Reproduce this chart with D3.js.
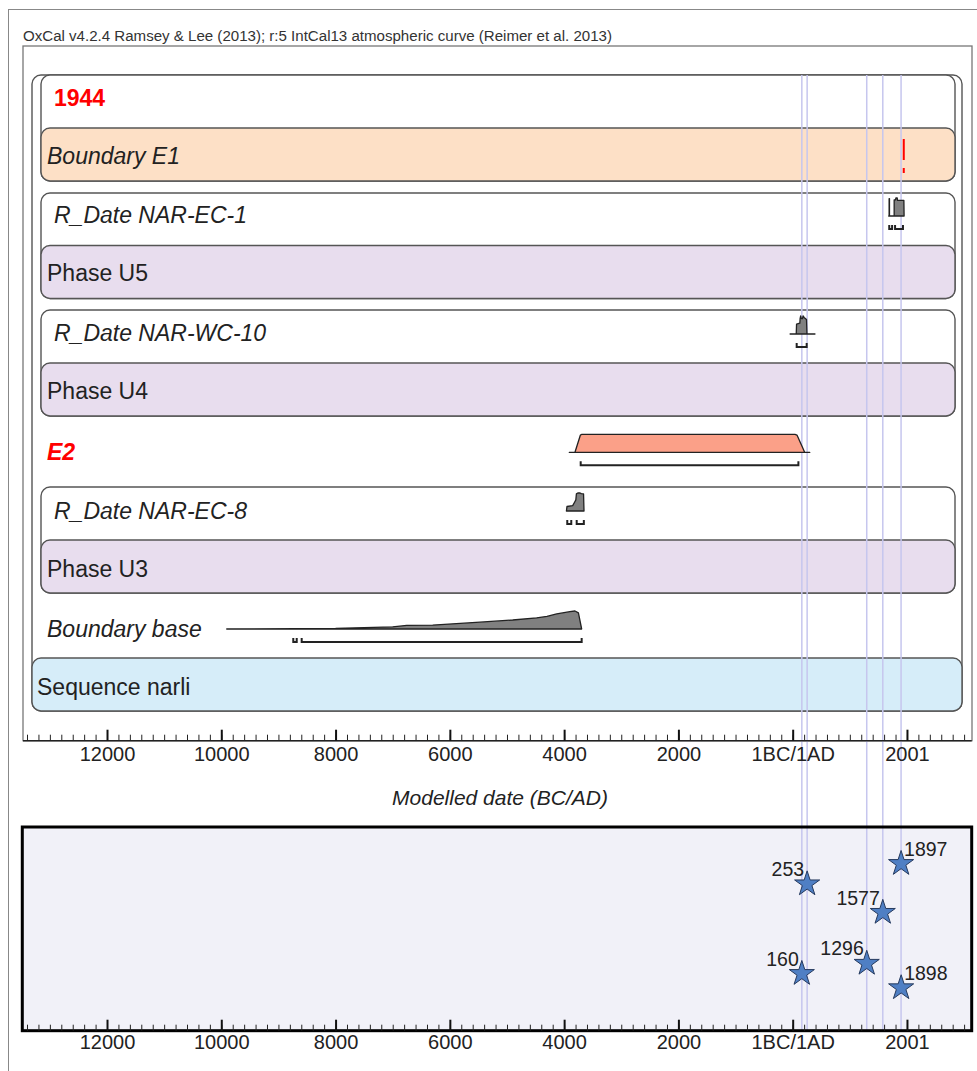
<!DOCTYPE html>
<html><head><meta charset="utf-8">
<script src="https://cdn.jsdelivr.net/npm/d3@7"></script>
<style>
html,body{margin:0;padding:0;background:#fff;}
svg{display:block;font-family:"Liberation Sans",Arial,sans-serif;}
</style></head><body>
<svg id="chart" width="977" height="1071"></svg>
<script>
// ---------------- data ----------------
const titleText = "OxCal v4.2.4 Ramsey & Lee (2013); r:5 IntCal13 atmospheric curve (Reimer et al. 2013)";
const axisTitle = "Modelled date (BC/AD)";
const rowLabels = ["1944", "Boundary E1", "R_Date NAR-EC-1", "Phase U5", "R_Date NAR-WC-10",
  "Phase U4", "E2", "R_Date NAR-EC-8", "Phase U3", "Boundary base", "Sequence narli"];
const majorTickValues = [-12000, -10000, -8000, -6000, -4000, -2000, 0, 2000];
const majorTickLabels = ["12000", "10000", "8000", "6000", "4000", "2000", "1BC/1AD", "2001"];
const minorTickStep = 200;
const boundaryE1Year = 1944;
// probability distributions [calendar year (AD +, BC -), relative density]
const ec1Dist = [[1680,0],[1688,0],[1688,0.97],[1694,0.97],[1694,0],[1776,0],[1776,0.9],[1800,0.9],[1806,1],[1830,1],[1834,0.87],[1946,0.87],[1950,0]];
const wc10Dist = [[-45,0],[62,0],[68,0.55],[125,0.6],[130,0.85],[140,1],[152,0.85],[172,0.85],[182,1],[200,0.92],[242,0.8],[250,0],[390,0]];
const e2Dist = [[-3910,0],[-3810,0],[-3715,0.96],[-3690,1],[40,1],[75,0.96],[210,0],[300,0]];
const ec8Dist = [[-3960,0],[-3950,0.25],[-3850,0.3],[-3815,0.5],[-3795,0.62],[-3785,0.95],[-3760,1],[-3720,1],[-3700,0.97],[-3660,0.95],[-3652,0]];
const baseDist = [[-9905,0],[-8000,0.03],[-7000,0.12],[-6755,0.2],[-6300,0.22],[-5472,0.38],[-4900,0.5],[-4480,0.62],[-4300,0.7],[-4130,0.84],[-3900,0.96],[-3810,1],[-3750,0.9],[-3693,0]];
// 95.4% ranges
const ec1Ranges = [[1690,1740],[1792,1930]];
const wc10Ranges = [[70,245]];
const e2Ranges = [[-3710,100]];
const ec8Ranges = [[-3945,-3875],[-3780,-3655]];
const baseRanges = [[-8740,-8680],[-8593,-3693]];
// events shown in the lower panel
const eventYears = [160, 253, 1296, 1577, 1897, 1898];
const eventLabels = ["160", "253", "1296", "1577", "1897", "1898"];
const eventLevels = [2.8, 7.2, 3.3, 5.8, 8.2, 2.1];
const markerYears = [160, 253, 1296, 1577, 1897];

// ---------------- layout ----------------
const svg = d3.select("#chart");
const x = d3.scaleLinear().domain([-13465, 3133]).range([23.3, 971.7]);
const axisY = 740.7, lowAxisY = 1030.7, lowTop = 827;
const yEv = d3.scaleLinear().domain([0, 10]).range([lowAxisY, lowTop]);

const rowTops = [75, 128, 193, 245.5, 310, 363, 428, 487, 540, 605, 658];
const rowH = 53;
const textCenters = [98, 156, 215, 273, 333, 391, 452, 511, 569, 629, 687];
const rowStyle = [
  {x:54, fill:"#ff0000", weight:"bold", italic:false},
  {x:47, italic:true},
  {x:54, italic:true},
  {x:47, italic:false},
  {x:54, italic:true},
  {x:47, italic:false},
  {x:47, fill:"#ff0000", weight:"bold", italic:true},
  {x:54, italic:true},
  {x:47, italic:false},
  {x:47, italic:true},
  {x:37, italic:false}
];

// outer frame
svg.append("rect").attr("x", 8.5).attr("y", 9.5).attr("width", 1000).attr("height", 1100)
  .attr("fill", "none").attr("stroke", "#888").attr("stroke-width", 1);
// plot frame
svg.append("rect").attr("x", 23).attr("y", 46).attr("width", 949).attr("height", axisY - 46)
  .attr("fill", "none").attr("stroke", "#777").attr("stroke-width", 1.3);

svg.append("text").attr("x", 23).attr("y", 41).attr("font-size", 14)
  .attr("font-family", "'Liberation Sans Narrow','Liberation Sans',Arial,sans-serif")
  .attr("textLength", 589).attr("lengthAdjust", "spacingAndGlyphs")
  .attr("fill", "#333").text(titleText);

const cardStroke = "#555";
const g = svg.append("g");
// Sequence outer card
g.append("rect").attr("x", 32).attr("y", rowTops[0]).attr("width", 930).attr("height", rowTops[10] + rowH - rowTops[0])
  .attr("rx", 9).attr("fill", "#fff").attr("stroke", cardStroke).attr("stroke-width", 1.4);
g.append("rect").attr("x", 32).attr("y", rowTops[10]).attr("width", 930).attr("height", rowH)
  .attr("rx", 9).attr("fill", "#d6edf9").attr("stroke", cardStroke).attr("stroke-width", 1.4);
// nested cards: [topRow, bottomRow, colour]
const cards = [[0, 1, "#fde0c6"], [2, 3, "#e8ddee"], [4, 5, "#e8ddee"], [7, 8, "#e8ddee"]];
cards.forEach(([a, b, col]) => {
  g.append("rect").attr("x", 41).attr("y", rowTops[a]).attr("width", 914).attr("height", rowTops[b] + rowH - rowTops[a])
    .attr("rx", 9).attr("fill", "#fff").attr("stroke", cardStroke).attr("stroke-width", 1.4);
  g.append("rect").attr("x", 41).attr("y", rowTops[b]).attr("width", 914).attr("height", rowH)
    .attr("rx", 9).attr("fill", col).attr("stroke", cardStroke).attr("stroke-width", 1.4);
});

// lower panel background
svg.append("rect").attr("x", 22.3).attr("y", lowTop).attr("width", 971.7 - 22.3).attr("height", lowAxisY - lowTop)
  .attr("fill", "#f1f1f8");

// vertical marker lines
svg.append("g").selectAll("line").data(markerYears).join("line")
  .attr("x1", d => x(d)).attr("x2", d => x(d)).attr("y1", rowTops[0]).attr("y2", lowAxisY)
  .attr("stroke", "#c6c6ee").attr("stroke-width", 1.5);

// row labels
svg.append("g").selectAll("text").data(rowLabels).join("text")
  .attr("x", (d, i) => rowStyle[i].x)
  .attr("y", (d, i) => textCenters[i] + 8)
  .attr("font-size", 23)
  .attr("font-style", (d, i) => rowStyle[i].italic ? "italic" : "normal")
  .attr("font-weight", (d, i) => rowStyle[i].weight || "normal")
  .attr("fill", (d, i) => rowStyle[i].fill || "#222")
  .text(d => d);

// boundary E1 marker
svg.append("line").attr("x1", x(boundaryE1Year)).attr("x2", x(boundaryE1Year))
  .attr("y1", 139).attr("y2", 173).attr("stroke", "#ff0000").attr("stroke-width", 2)
  .attr("stroke-dasharray", "21,8,5");

// distributions
const distH = 18;
function drawDist(data, baseY, fill, ranges) {
  const area = d3.area().x(d => x(d[0])).y0(baseY).y1(d => baseY - d[1] * distH);
  svg.append("path").datum(data).attr("d", area).attr("fill", fill)
    .attr("stroke", "#222").attr("stroke-width", 1.3).attr("stroke-linejoin", "round");
  const by = baseY + 13;
  svg.append("g").selectAll("path").data(ranges).join("path")
    .attr("d", r => `M${x(r[0])},${by - 4}V${by}H${x(r[1])}V${by - 4}`)
    .attr("fill", "none").attr("stroke", "#222").attr("stroke-width", 2);
}
drawDist(ec1Dist, rowTops[2] + 23, "#808080", ec1Ranges);
drawDist(wc10Dist, rowTops[4] + 24, "#808080", wc10Ranges);
drawDist(e2Dist, rowTops[6] + 24.3, "#fba088", e2Ranges);
drawDist(ec8Dist, rowTops[7] + 24, "#808080", ec8Ranges);
drawDist(baseDist, rowTops[9] + 24, "#808080", baseRanges);

// axes
function drawAxis(yPos, labelPad) {
  const minor = d3.range(-13400, 3134, minorTickStep);
  svg.append("g").attr("transform", `translate(0,${yPos})`)
    .call(d3.axisBottom(x).tickValues(minor).tickSize(-6).tickFormat(""))
    .call(s => s.select(".domain").remove())
    .call(s => s.selectAll("line").attr("stroke", "#222").attr("stroke-width", 1));
  const ax = svg.append("g").attr("transform", `translate(0,${yPos})`)
    .call(d3.axisBottom(x).tickValues(majorTickValues).tickSize(-11).tickPadding(labelPad)
      .tickFormat((d, i) => majorTickLabels[i]));
  ax.select(".domain").remove();
  ax.selectAll("line").attr("stroke", "#111").attr("stroke-width", 2);
  ax.selectAll("text").attr("font-size", 20).attr("fill", "#222")
    .attr("font-family", "'Liberation Sans',Arial,sans-serif");
}
svg.append("line").attr("x1", 23).attr("x2", 971.7).attr("y1", axisY).attr("y2", axisY)
  .attr("stroke", "#222").attr("stroke-width", 1.6);
drawAxis(axisY, 6);
svg.append("text").attr("x", 500).attr("y", 805).attr("text-anchor", "middle")
  .attr("font-size", 21).attr("font-style", "italic").attr("fill", "#222").text(axisTitle);

// lower panel border + axis
svg.append("rect").attr("x", 22.3).attr("y", lowTop).attr("width", 971.7 - 22.3).attr("height", lowAxisY - lowTop)
  .attr("fill", "none").attr("stroke", "#000").attr("stroke-width", 3);
drawAxis(lowAxisY, 4);

// events
const star = d3.symbol().type(d3.symbolStar).size(195);
const ev = svg.append("g").selectAll("g").data(eventYears).join("g")
  .attr("transform", (d, i) => `translate(${x(d)},${yEv(eventLevels[i])})`);
ev.append("path").attr("d", star).attr("fill", "#4f7fc4").attr("stroke", "#263a5e").attr("stroke-width", 1);
ev.append("text")
  .attr("x", d => d > 1800 ? 3 : -3).attr("y", -8)
  .attr("text-anchor", d => d > 1800 ? "start" : "end")
  .attr("font-size", 19.5).attr("fill", "#222")
  .text((d, i) => eventLabels[i]);
</script>
</body></html>
